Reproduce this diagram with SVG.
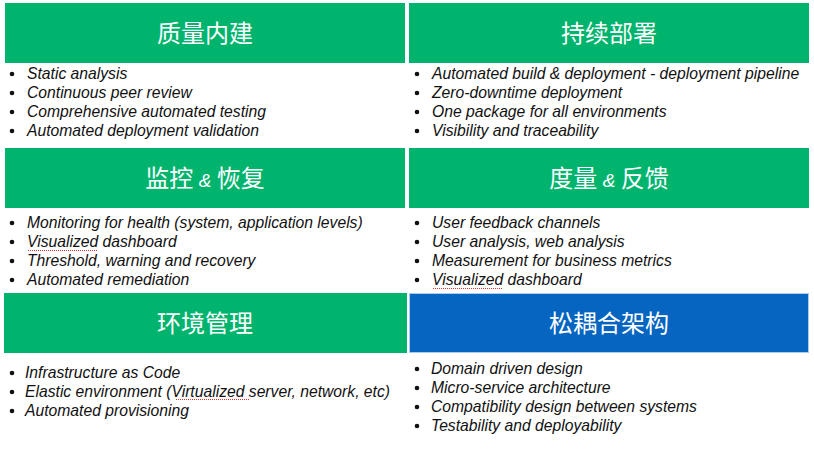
<svg xmlns="http://www.w3.org/2000/svg" width="814" height="450" viewBox="0 0 814 450">
  <style>
    .bg { fill: #ffffff; }
    .hdr { fill: #00B46E; }
    .hdr-blue { fill: #0565C1; stroke: #A9CBEF; stroke-width: 1; }
    .title { font-family: "Noto Sans CJK SC", "Liberation Sans", sans-serif; font-size: 24px; fill: #ffffff; text-anchor: middle; }
    .amp { font-family: "Liberation Sans", sans-serif; font-style: italic; font-size: 19px; }
    .item { font-family: "Liberation Sans", Arial, sans-serif; font-style: italic; font-size: 15.7px; fill: #111111; }
    .dot { fill: #111111; }
    .spell { stroke: #E03030; stroke-width: 1; stroke-dasharray: 1 1; fill: none; }
  </style>

  <rect class="bg" x="0" y="0" width="814" height="450"/>

  <!-- Built-in quality -->
  <g id="quality">
    <rect class="hdr" x="5" y="3" width="400" height="60"/>
    <text class="title" x="205" y="42">质量内建</text>
    <g class="dot">
      <circle cx="12" cy="74" r="2.3"/><circle cx="12" cy="93" r="2.3"/>
      <circle cx="12" cy="112" r="2.3"/><circle cx="12" cy="131" r="2.3"/>
    </g>
    <text class="item" x="27" y="79">Static analysis</text>
    <text class="item" x="27" y="98">Continuous peer review</text>
    <text class="item" x="27" y="117">Comprehensive automated testing</text>
    <text class="item" x="27" y="136">Automated deployment validation</text>
  </g>

  <!-- Continuous deployment -->
  <g id="deployment">
    <rect class="hdr" x="409" y="3" width="400" height="60"/>
    <text class="title" x="609" y="42">持续部署</text>
    <g class="dot">
      <circle cx="417" cy="74" r="2.3"/><circle cx="417" cy="93" r="2.3"/>
      <circle cx="417" cy="112" r="2.3"/><circle cx="417" cy="131" r="2.3"/>
    </g>
    <text class="item" x="432" y="79">Automated build &amp; deployment - deployment pipeline</text>
    <text class="item" x="432" y="98">Zero-downtime deployment</text>
    <text class="item" x="432" y="117">One package for all environments</text>
    <text class="item" x="432" y="136">Visibility and traceability</text>
  </g>

  <!-- Monitoring & recovery -->
  <g id="monitoring">
    <rect class="hdr" x="5" y="148" width="400" height="60"/>
    <text class="title" x="205" y="187">监控 <tspan class="amp">&amp;</tspan> 恢复</text>
    <g class="dot">
      <circle cx="12" cy="223" r="2.3"/><circle cx="12" cy="242" r="2.3"/>
      <circle cx="12" cy="261" r="2.3"/><circle cx="12" cy="280" r="2.3"/>
    </g>
    <text class="item" x="27" y="228">Monitoring for health (system, application levels)</text>
    <text class="item" x="27" y="247">Visualized dashboard</text>
    <text class="item" x="27" y="266">Threshold, warning and recovery</text>
    <text class="item" x="27" y="285">Automated remediation</text>
    <path class="spell" d="M28 250.5 H97"/>
  </g>

  <!-- Measurement & feedback -->
  <g id="feedback">
    <rect class="hdr" x="409" y="148" width="400" height="60"/>
    <text class="title" x="609" y="187">度量 <tspan class="amp">&amp;</tspan> 反馈</text>
    <g class="dot">
      <circle cx="417" cy="223" r="2.3"/><circle cx="417" cy="242" r="2.3"/>
      <circle cx="417" cy="261" r="2.3"/><circle cx="417" cy="280" r="2.3"/>
    </g>
    <text class="item" x="432" y="228">User feedback channels</text>
    <text class="item" x="432" y="247">User analysis, web analysis</text>
    <text class="item" x="432" y="266">Measurement for business metrics</text>
    <text class="item" x="432" y="285">Visualized dashboard</text>
    <path class="spell" d="M433 288.5 H502"/>
  </g>

  <!-- Environment management -->
  <g id="environment">
    <rect class="hdr" x="4" y="293" width="403" height="60"/>
    <text class="title" x="205" y="332">环境管理</text>
    <g class="dot">
      <circle cx="12" cy="373" r="2.3"/><circle cx="12" cy="392" r="2.3"/>
      <circle cx="12" cy="411" r="2.3"/>
    </g>
    <text class="item" x="25" y="378">Infrastructure as Code</text>
    <text class="item" x="25" y="397">Elastic environment (Virtualized server, network, etc)</text>
    <text class="item" x="25" y="416">Automated provisioning</text>
    <path class="spell" d="M176 399.5 H249"/>
  </g>

  <!-- Loosely coupled architecture -->
  <g id="architecture">
    <rect class="hdr-blue" x="409.5" y="293.5" width="399" height="59"/>
    <text class="title" x="609" y="332">松耦合架构</text>
    <g class="dot">
      <circle cx="417" cy="369" r="2.3"/><circle cx="417" cy="388" r="2.3"/>
      <circle cx="417" cy="407" r="2.3"/><circle cx="417" cy="426" r="2.3"/>
    </g>
    <text class="item" x="431" y="374">Domain driven design</text>
    <text class="item" x="431" y="393">Micro-service architecture</text>
    <text class="item" x="431" y="412">Compatibility design between systems</text>
    <text class="item" x="431" y="431">Testability and deployability</text>
  </g>

  <g id="connectors"/>
</svg>
